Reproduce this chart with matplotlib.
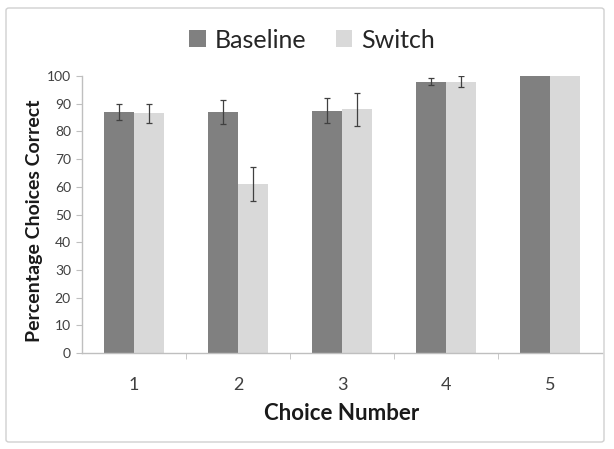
import matplotlib
matplotlib.use("Agg")
import matplotlib.pyplot as plt
import numpy as np
from matplotlib.patches import FancyBboxPatch

plt.rcParams['font.family'] = ['Lato', 'DejaVu Sans']

categories = ["1", "2", "3", "4", "5"]
baseline = [87, 87, 87.5, 98, 100]
baseline_err = [3, 4.3, 4.5, 1.2, 0]
switch = [86.5, 61, 88, 98, 100]
switch_err = [3.5, 6.3, 6, 2, 0]
yticks = [0, 10, 20, 30, 40, 50, 60, 70, 80, 90, 100]

W, H = 614, 449
fig = plt.figure(figsize=(W/100, H/100), dpi=100)
fig.patch.set_facecolor('white')
frame = FancyBboxPatch((6/W, 7/H), 598/W, 434/H,
                       boxstyle="round,pad=0,rounding_size=0.005",
                       transform=fig.transFigure, facecolor='white',
                       edgecolor='#d0d0d0', linewidth=1.0, zorder=-10)
fig.patches.append(frame)

ax = fig.add_axes([82/W, (H-353)/H, 520/W, 277/H])
ax.set_facecolor('none')
x = np.arange(len(categories))
w = 0.285
ax.bar(x - w/2, baseline, w, color='#808080', label='Baseline')
ax.bar(x + w/2, switch, w, color='#d9d9d9', label='Switch')

ekw = dict(fmt='none', ecolor='#404040', elinewidth=0.9, capsize=2.2, capthick=0.9)
for xs, vals, errs in [(x - w/2, baseline, baseline_err), (x + w/2, switch, switch_err)]:
    m = np.array(errs) > 0
    ax.errorbar(np.asarray(xs)[m], np.asarray(vals)[m], yerr=np.asarray(errs)[m], **ekw)

ax.set_xlim(-0.5, len(categories) - 0.5)
ax.set_ylim(0, 100)
ax.set_yticks(yticks)
ax.set_yticklabels([str(v) for v in yticks], fontsize=10, color='#404040')
ax.set_xticks(x)
ax.set_xticklabels(categories, fontsize=13, color='#404040')
ax.tick_params(axis='x', length=0, pad=17)
ax.set_xticks(np.arange(0.5, len(categories) - 0.5, 1), minor=True)
ax.tick_params(axis='x', which='minor', length=4, color='#bfbfbf', direction='out')
ax.tick_params(axis='y', length=4, color='#bfbfbf', direction='out', pad=4)

for s in ['top', 'right']:
    ax.spines[s].set_visible(False)
for s in ['left', 'bottom']:
    ax.spines[s].set_color('#bfbfbf')
    ax.spines[s].set_linewidth(1.0)

ax.set_xlabel('Choice Number', fontsize=16, fontweight='bold', color='#1a1a1a')
ax.set_ylabel('Percentage Choices Correct', fontsize=14, fontweight='bold', color='#1a1a1a')
ax.xaxis.set_label_coords(0.5, -(414 - 353) / 277, transform=ax.transAxes)
ax.xaxis.label.set_va('center')
ax.yaxis.set_label_coords((35 - 82) / 520, (353 - 221) / 277, transform=ax.transAxes)
ax.yaxis.label.set_va('center')

leg = fig.legend(loc='center', bbox_to_anchor=(312/W, (H-40)/H), ncol=2, frameon=False,
                 fontsize=18, handlelength=0.65, handleheight=0.65, handletextpad=0.35,
                 columnspacing=1.2)
for t in leg.get_texts():
    t.set_color('#262626')

fig.savefig('out.png', dpi=100, facecolor='white')
